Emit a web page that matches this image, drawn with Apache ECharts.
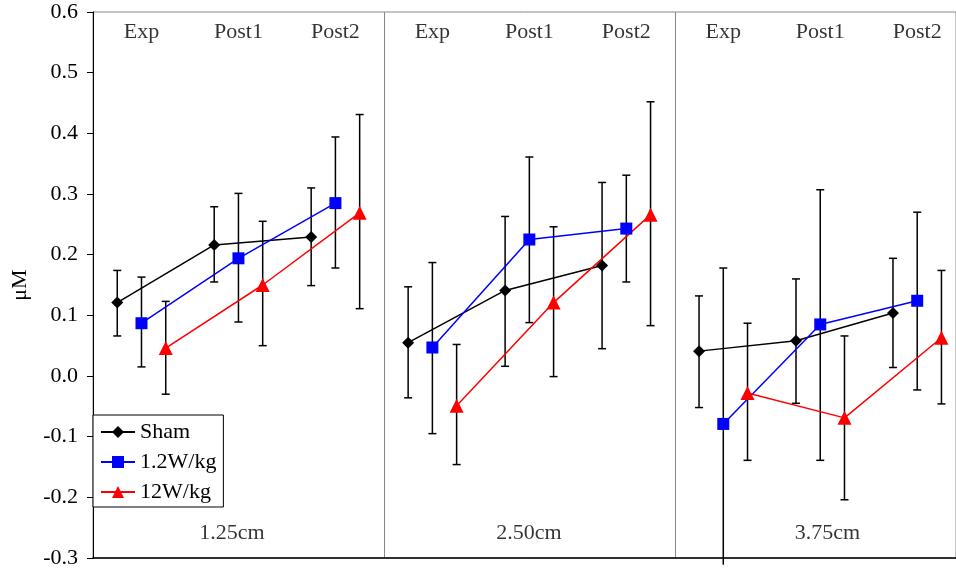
<!DOCTYPE html>
<html><head><meta charset="utf-8">
<script src="https://cdn.jsdelivr.net/npm/echarts@6/dist/echarts.min.js"></script>
<style>html,body{margin:0;padding:0;background:#fff}#c{width:956px;height:571px}</style>
</head><body><div id="c"></div>
<script>
// ---- data ----
const panels = ['1.25cm', '2.50cm', '3.75cm'];
const phases = ['Exp', 'Post1', 'Post2'];
const seriesNames = ['Sham', '1.2W/kg', '12W/kg'];
const yMin = -0.3, yMax = 0.6, yStep = 0.1;

// values ordered: panel1 Exp,Post1,Post2, panel2 ..., panel3 ...
const shamMean = [0.121, 0.216, 0.229, 0.055, 0.141, 0.182, 0.041, 0.058, 0.104];
const shamHigh = [0.174, 0.279, 0.310, 0.147, 0.263, 0.319, 0.132, 0.160, 0.194];
const shamLow  = [0.066, 0.155, 0.149, -0.036, 0.016, 0.045, -0.052, -0.045, 0.014];

const lowMean  = [0.087, 0.194, 0.285, 0.047, 0.225, 0.243, -0.079, 0.085, 0.124];
const lowHigh  = [0.163, 0.301, 0.394, 0.187, 0.361, 0.331, 0.178, 0.307, 0.270];
const lowLow   = [0.015, 0.089, 0.178, -0.095, 0.088, 0.155, -0.311, -0.139, -0.023];

const highMean = [0.046, 0.150, 0.269, -0.049, 0.121, 0.266, -0.028, -0.069, 0.063];
const highHigh = [0.123, 0.255, 0.431, 0.052, 0.246, 0.452, 0.087, 0.066, 0.174];
const highLow  = [-0.030, 0.050, 0.111, -0.146, -0.001, 0.083, -0.139, -0.204, -0.046];

// ---- layout helpers ----
const PANEL_UNITS = 12, PHASE_UNITS = 4;
const xOf = (panel, phase, s) => panel * PANEL_UNITS + phase * PHASE_UNITS + s + 1;
const FONT = '"Liberation Serif", "Times New Roman", serif';
const FS = 22;
const colors = ['#000000', '#0000ff', '#ff0000'];
const symbols = ['diamond', 'rect', 'triangle'];
const symbolSizes = [12, 12, 14];
const means = [shamMean, lowMean, highMean];
const highs = [shamHigh, lowHigh, highHigh];
const lows = [shamLow, lowLow, highLow];

const series = [];
// error bars
const errData = [];
for (let s = 0; s < 3; s++)
  for (let p = 0; p < panels.length; p++)
    for (let k = 0; k < phases.length; k++) {
      const i = p * phases.length + k;
      errData.push([xOf(p, k, s), lows[s][i], highs[s][i]]);
    }
series.push({
  type: 'custom', name: 'err', clip: false, z: 1, silent: true,
  data: errData,
  renderItem: function (params, api) {
    const x = api.value(0), lo = api.value(1), hi = api.value(2);
    const a = api.coord([x, hi]), b = api.coord([x, lo]);
    const w = 4;
    const st = { stroke: '#000', lineWidth: 1.5 };
    const ch = [
      { type: 'line', shape: { x1: a[0], y1: a[1], x2: b[0], y2: b[1] }, style: st },
      { type: 'line', shape: { x1: a[0] - w, y1: a[1], x2: a[0] + w, y2: a[1] }, style: st }
    ];
    if (lo >= yMin) ch.push({ type: 'line', shape: { x1: b[0] - w, y1: b[1], x2: b[0] + w, y2: b[1] }, style: st });
    return { type: 'group', children: ch };
  }
});
// lines
for (let s = 0; s < 3; s++)
  for (let p = 0; p < panels.length; p++) {
    const d = [];
    for (let k = 0; k < phases.length; k++) d.push([xOf(p, k, s), means[s][p * phases.length + k]]);
    series.push({
      type: 'line', name: seriesNames[s], data: d, z: 3,
      symbol: symbols[s], symbolSize: symbolSizes[s], showSymbol: true,
      itemStyle: { color: colors[s] },
      lineStyle: { color: colors[s], width: 1.5 },
      emphasis: { disabled: true }, animation: false
    });
  }
// phase labels (top) and panel labels (bottom)
const phaseLabelData = [];
for (let p = 0; p < panels.length; p++)
  for (let k = 0; k < phases.length; k++)
    phaseLabelData.push({ name: phases[k], value: [xOf(p, k, 1), 0.566] });
const panelLabelX = [5.73, 17.98, 30.3];
const panelLabelData = panels.map((n, p) => ({ name: n, value: [panelLabelX[p], -0.259] }));
series.push({
  type: 'scatter', name: 'labels', symbolSize: 0, silent: true, z: 5,
  data: phaseLabelData.concat(panelLabelData),
  label: { show: true, position: 'inside', formatter: '{b}', color: '#000', fontFamily: FONT, fontSize: FS }
});

const chart = echarts.init(document.getElementById('c'), null, { renderer: 'canvas' });
chart.setOption({
  animation: false,
  backgroundColor: '#fff',
  textStyle: { fontFamily: FONT },
  grid: { left: 93, right: 0, top: 12, bottom: 13, show: true, borderColor: '#888', borderWidth: 1 },
  xAxis: {
    type: 'value', min: 0, max: 35.6, interval: PANEL_UNITS,
    axisLine: { show: true, onZero: false, lineStyle: { color: '#000', width: 1.5 } },
    axisTick: { show: false }, axisLabel: { show: false },
    splitLine: { show: true, lineStyle: { color: '#888', width: 1 } }
  },
  yAxis: {
    type: 'value', min: yMin, max: yMax, interval: yStep,
    name: 'μM', nameLocation: 'middle', nameGap: 62, nameRotate: 90,
    nameTextStyle: { fontFamily: FONT, fontSize: FS, color: '#000' },
    axisLine: { show: true, lineStyle: { color: '#000', width: 1 } },
    axisTick: { show: true, length: 6, lineStyle: { color: '#000' } },
    axisLabel: { margin: 15, fontFamily: FONT, fontSize: FS, color: '#000', formatter: v => v.toFixed(1) },
    splitLine: { show: false }
  },
  legend: {
    data: seriesNames, orient: 'vertical', left: 93, top: 415,
    backgroundColor: '#fff', borderColor: '#000', borderWidth: 1,
    padding: [6, 7, 4, 7], itemGap: 8, itemWidth: 34, itemHeight: 15,
    textStyle: { fontFamily: FONT, fontSize: FS, color: '#000' },
    selectedMode: false
  },
  series: series
});
</script></body></html>
